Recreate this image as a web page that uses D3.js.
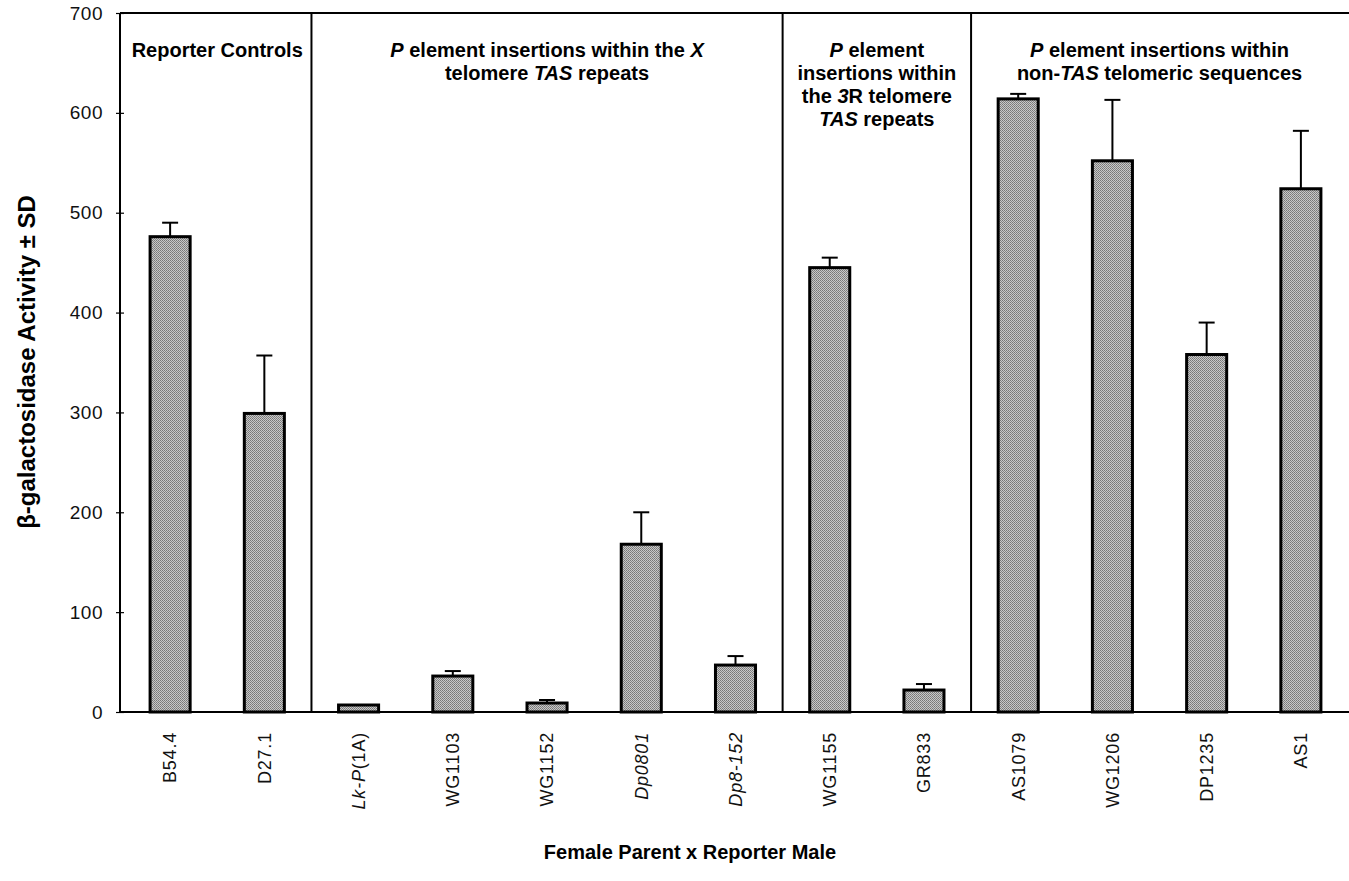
<!DOCTYPE html>
<html>
<head>
<meta charset="utf-8">
<script src="https://cdn.jsdelivr.net/npm/d3@7"></script>
<style>
  html, body { margin: 0; padding: 0; background: #fff; }
  svg { display: block; }
</style>
</head>
<body>
<svg id="chart" width="1349" height="881"></svg>
<script>
// ---- data ----
const categories = ["B54.4", "D27.1", "Lk-P(1A)", "WG1103", "WG1152", "Dp0801", "Dp8-152",
                    "WG1155", "GR833", "AS1079", "WG1206", "DP1235", "AS1"];
const values = [476, 299, 7, 36, 9, 168, 47, 445, 22, 614, 552, 358, 524];
const errors = [14, 58, 0, 5, 3, 32, 9, 10, 6, 5, 61, 32, 58];
const italicLabels = ["Dp0801", "Dp8-152"];
const yTicks = [0, 100, 200, 300, 400, 500, 600, 700];
const groupStarts = [0, 2, 7, 9];
const groupEnds = [2, 7, 9, 13];
// group label lines: array of segments [text, italic]
const groupLabels = [
  [[["Reporter Controls", false]]],
  [[["P", true], [" element insertions within the ", false], ["X", true]],
   [["telomere ", false], ["TAS", true], [" repeats", false]]],
  [[["P", true], [" element", false]],
   [["insertions within", false]],
   [["the ", false], ["3", true], ["R telomere", false]],
   [["TAS", true], [" repeats", false]]],
  [[["P", true], [" element insertions within", false]],
   [["non-", false], ["TAS", true], [" telomeric sequences", false]]]
];
const yTitle = "β-galactosidase Activity ± SD";
const xTitle = "Female Parent x Reporter Male";

// ---- layout ----
const svg = d3.select("#chart");
const axisX = 120, plotTop = 13, plotBottom = 712, plotRight = 1349;
const font = "'Liberation Sans', Arial, Helvetica, sans-serif";

const x = d3.scaleBand().domain(categories).range([123, 1348])
  .paddingInner(0.575).paddingOuter(0.2875);
const y = d3.scaleLinear().domain([0, 700]).range([plotBottom, plotTop]);
const step = x.step();

// texture pattern
const defs = svg.append("defs");
const pat = defs.append("pattern").attr("id", "tex").attr("patternUnits", "userSpaceOnUse")
  .attr("width", 2).attr("height", 2);
pat.append("rect").attr("width", 2).attr("height", 2).attr("fill", "#c8c8c8");
pat.append("rect").attr("x", 0).attr("y", 0).attr("width", 1).attr("height", 1).attr("fill", "#777");
pat.append("rect").attr("x", 1).attr("y", 1).attr("width", 1).attr("height", 1).attr("fill", "#858585");

// frame: top line and group dividers
svg.append("line").attr("x1", axisX).attr("x2", plotRight).attr("y1", plotTop).attr("y2", plotTop)
  .attr("stroke", "#000").attr("stroke-width", 2);
groupStarts.slice(1).forEach(i => {
  const xx = x(categories[i]) - (step - x.bandwidth()) / 2;
  svg.append("line").attr("x1", xx).attr("x2", xx).attr("y1", plotTop).attr("y2", plotBottom)
    .attr("stroke", "#000").attr("stroke-width", 2);
});

// bars
svg.append("g").selectAll("rect").data(categories).join("rect")
  .attr("x", d => x(d))
  .attr("y", (d, i) => y(values[i]))
  .attr("width", x.bandwidth())
  .attr("height", (d, i) => y(0) - y(values[i]))
  .attr("fill", "url(#tex)")
  .attr("stroke", "#000").attr("stroke-width", 3);

// error bars (upper only)
const eg = svg.append("g").attr("stroke", "#000").attr("stroke-width", 2);
categories.forEach((c, i) => {
  if (errors[i] <= 0) return;
  const cx = x(c) + x.bandwidth() / 2;
  eg.append("line").attr("x1", cx).attr("x2", cx).attr("y1", y(values[i])).attr("y2", y(values[i] + errors[i]));
  eg.append("line").attr("x1", cx - 8).attr("x2", cx + 8).attr("y1", y(values[i] + errors[i])).attr("y2", y(values[i] + errors[i]));
});

// y axis
const ya = svg.append("g").attr("transform", `translate(${axisX},0)`)
  .call(d3.axisLeft(y).tickValues(yTicks).tickSize(4).tickPadding(13));
ya.select(".domain").attr("stroke-width", 2).attr("d", `M0,${plotTop}V${plotBottom}`);
ya.selectAll(".tick line").attr("x1", 4).attr("stroke-width", 1.2);
ya.selectAll(".tick text").attr("font-family", font).attr("font-size", 19)
  .attr("letter-spacing", 0.5).attr("fill", "#111");

// x axis
const xa = svg.append("g").attr("transform", `translate(0,${plotBottom})`)
  .call(d3.axisBottom(x).tickSize(0).tickPadding(0));
xa.select(".domain").attr("stroke-width", 2).attr("d", `M${axisX},0H${plotRight}`);
xa.selectAll(".tick text")
  .attr("font-family", font).attr("font-size", 18).attr("fill", "#111")
  .attr("letter-spacing", 0.8)
  .attr("text-anchor", "end").attr("transform", "rotate(-90)")
  .attr("x", -20).attr("y", 0).attr("dy", "0.35em")
  .each(function(d) {
    const t = d3.select(this);
    t.text(null);
    if (d === "Lk-P(1A)") {
      t.append("tspan").attr("font-style", "italic").text("Lk-P");
      t.append("tspan").text("(1A)");
    } else if (italicLabels.includes(d)) {
      t.append("tspan").attr("font-style", "italic").text(d);
    } else {
      t.text(d);
    }
  });

// group labels
groupLabels.forEach((lines, g) => {
  const x0 = x(categories[groupStarts[g]]) - (step - x.bandwidth()) / 2;
  const x1 = x0 + step * (groupEnds[g] - groupStarts[g]);
  const cx = (x0 + x1) / 2;
  lines.forEach((segs, li) => {
    const t = svg.append("text").attr("x", cx).attr("y", 57 + li * 23)
      .attr("text-anchor", "middle").attr("font-family", font).attr("font-size", 20)
      .attr("font-weight", "bold").attr("fill", "#000");
    segs.forEach(s => {
      const ts = t.append("tspan").text(s[0]);
      if (s[1]) ts.attr("font-style", "italic");
    });
  });
});

// axis titles
svg.append("text").attr("transform", "translate(35,362) rotate(-90)")
  .attr("text-anchor", "middle").attr("font-family", font).attr("font-size", 24)
  .attr("font-weight", "bold").attr("fill", "#000").text(yTitle);
svg.append("text").attr("x", 690).attr("y", 859)
  .attr("text-anchor", "middle").attr("font-family", font).attr("font-size", 20)
  .attr("font-weight", "bold").attr("fill", "#000").text(xTitle);
</script>
</body>
</html>
